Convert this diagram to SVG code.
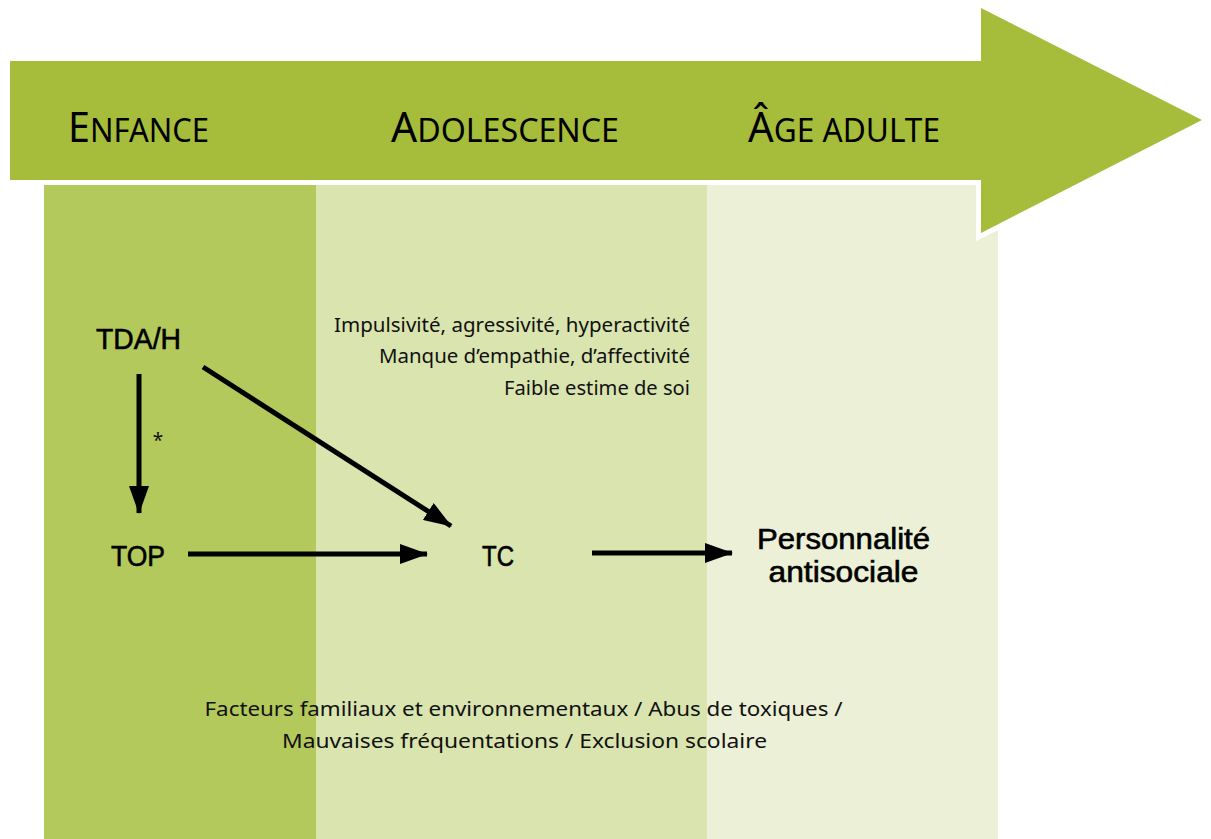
<svg xmlns="http://www.w3.org/2000/svg" width="1211" height="839" viewBox="0 0 1211 839">
<defs>
<style>
.hdr{font-family:"Noto Sans","Open Sans","DejaVu Sans",sans-serif;font-size:42px;fill:#000}
.hdr .sc{font-size:33px}
.node{font-family:"Liberation Sans","Arial",sans-serif;font-size:29px;fill:#000;stroke:#000;stroke-width:0.6}
.note{font-family:"Noto Sans","Open Sans","DejaVu Sans",sans-serif;font-size:19px;fill:#111}
.conn{stroke:#000;stroke-width:5;fill:none}
</style>
<marker id="ah" markerUnits="userSpaceOnUse" markerWidth="28" markerHeight="20" refX="27" refY="10" orient="auto" viewBox="0 0 28 20">
<path d="M0,0 L28,10 L0,20 z" fill="#000"/>
</marker>
</defs>
<rect width="1211" height="839" fill="#fff"/>
<g id="panels">
<rect x="44" y="185" width="272" height="654" fill="#b4c95c"/>
<rect x="316" y="185" width="391" height="654" fill="#d9e4ae"/>
<rect x="707" y="185" width="291" height="654" fill="#ebf0d6"/>
</g>
<g id="timeline">
<path d="M10,61 L981,61 L981,8 L1202,120 L981,233 L981,180 L10,180 Z" fill="#a6bc3b" stroke="#fff" stroke-width="10" stroke-linejoin="miter" paint-order="stroke"/>
<text class="hdr" x="68" y="142" textLength="141" lengthAdjust="spacingAndGlyphs">E<tspan class="sc">NFANCE</tspan></text>
<text class="hdr" x="391" y="142" textLength="228" lengthAdjust="spacingAndGlyphs">A<tspan class="sc">DOLESCENCE</tspan></text>
<text class="hdr" x="748" y="142" textLength="192" lengthAdjust="spacingAndGlyphs">Â<tspan class="sc">GE ADULTE</tspan></text>
</g>
<g id="connectors">
<line class="conn" x1="139" y1="374" x2="139" y2="513" marker-end="url(#ah)"/>
<line class="conn" x1="203" y1="367" x2="451" y2="526" marker-end="url(#ah)"/>
<line class="conn" x1="188" y1="554" x2="427" y2="554" marker-end="url(#ah)"/>
<line class="conn" x1="592" y1="553" x2="732" y2="553" marker-end="url(#ah)"/>
<text class="note" x="158" y="447" text-anchor="middle">*</text>
</g>
<g id="node-tdah"><text class="node" x="96" y="349" textLength="85" lengthAdjust="spacingAndGlyphs">TDA/H</text></g>
<g id="node-top"><text class="node" x="111" y="566" textLength="54" lengthAdjust="spacingAndGlyphs">TOP</text></g>
<g id="node-tc"><text class="node" x="482" y="566" textLength="32" lengthAdjust="spacingAndGlyphs">TC</text></g>
<g id="node-personnalite">
<text class="node" x="757" y="549" textLength="173" lengthAdjust="spacingAndGlyphs">Personnalité</text>
<text class="node" x="768.5" y="582" textLength="150" lengthAdjust="spacingAndGlyphs">antisociale</text>
</g>
<g id="traits">
<text class="note" x="334" y="332" textLength="356" lengthAdjust="spacingAndGlyphs">Impulsivité, agressivité, hyperactivité</text>
<text class="note" x="379" y="363" textLength="311" lengthAdjust="spacingAndGlyphs">Manque d’empathie, d’affectivité</text>
<text class="note" x="504" y="395" textLength="186" lengthAdjust="spacingAndGlyphs">Faible estime de soi</text>
</g>
<g id="factors">
<text class="note" x="204.5" y="716" textLength="638" lengthAdjust="spacingAndGlyphs">Facteurs familiaux et environnementaux / Abus de toxiques /</text>
<text class="note" x="282" y="748" textLength="485" lengthAdjust="spacingAndGlyphs">Mauvaises fréquentations / Exclusion scolaire</text>
</g>
</svg>
